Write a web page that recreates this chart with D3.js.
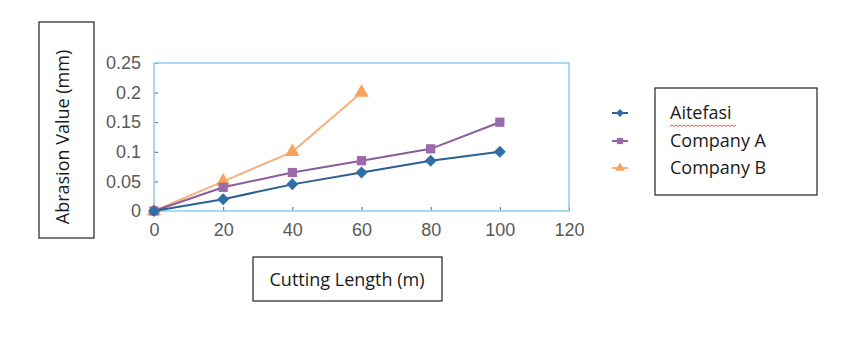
<!DOCTYPE html>
<html><head><meta charset="utf-8">
<script src="https://cdn.jsdelivr.net/npm/d3@7/dist/d3.min.js"></script>
<style>body{margin:0;background:#fff;}svg{display:block;font-family:"Open Sans",sans-serif;}</style>
</head><body>
<script>
const xValues = [0, 20, 40, 60, 80, 100];
const aitefasi = [0, 0.02, 0.045, 0.065, 0.085, 0.1];
const companyA = [0, 0.04, 0.065, 0.085, 0.105, 0.15];
const companyB = [0, 0.05, 0.1, 0.2];
const seriesNames = ["Aitefasi", "Company A", "Company B"];
const xTicks = [0, 20, 40, 60, 80, 100, 120];
const yTicks = [0, 0.05, 0.1, 0.15, 0.2, 0.25];
const yTickLabels = ["0", "0.05", "0.1", "0.15", "0.2", "0.25"];

const W = 860, H = 350;
const svg = d3.select("body").append("svg").attr("width", W).attr("height", H);
const x = d3.scaleLinear().domain([0, 120]).range([154, 569]);
const y = d3.scaleLinear().domain([0, 0.25]).range([211, 63]);

// ticks
const gx = svg.append("g").attr("transform", `translate(0,${y(0)})`)
  .call(d3.axisBottom(x).tickValues(xTicks).tickSize(-4).tickPadding(12).tickFormat(d3.format("d")));
gx.select(".domain").remove();
gx.selectAll("line").attr("stroke", "#666");
gx.selectAll("text").attr("font-size", 18).attr("fill", "#595959").attr("dy", "0.71em");

const gy = svg.append("g").attr("transform", `translate(${x(0)},0)`)
  .call(d3.axisLeft(y).tickValues(yTicks).tickSize(-4).tickPadding(13).tickFormat((d, i) => yTickLabels[i]));
gy.select(".domain").remove();
gy.selectAll("line").attr("stroke", "#666");
gy.selectAll("text").attr("font-size", 18).attr("fill", "#595959");

// frame
svg.append("rect").attr("x", x(0)).attr("y", y(0.25)).attr("width", x(120) - x(0)).attr("height", y(0) - y(0.25))
  .attr("fill", "none").attr("stroke", "#8ccff0").attr("stroke-width", 1.5);

const series = [
  {name: seriesNames[0], vals: aitefasi, line: "#2b5f8f", fill: "#2f6ea6", sym: d3.symbolSquare, rot: 45, size: 72},
  {name: seriesNames[1], vals: companyA, line: "#8a5c9c", fill: "#9a6aaa", sym: d3.symbolSquare, rot: 0, size: 85},
  {name: seriesNames[2], vals: companyB, line: "#f7b27a", fill: "#f7a35f", sym: d3.symbolTriangle, rot: 0, size: 90}
];

const line = d3.line().x(d => x(d[0])).y(d => y(d[1]));
series.slice().reverse().forEach(s => {
  const pts = s.vals.map((v, i) => [xValues[i], v]);
  svg.append("path").attr("d", line(pts)).attr("fill", "none").attr("stroke", s.line).attr("stroke-width", 2);
  svg.selectAll(null).data(pts).enter().append("path")
    .attr("d", d3.symbol().type(s.sym).size(s.size))
    .attr("transform", d => `translate(${x(d[0])},${y(d[1])}) rotate(${s.rot})`)
    .attr("fill", s.fill);
});

// legend
const legY = [113, 141, 168];
series.forEach((s, i) => {
  svg.append("line").attr("x1", 612).attr("x2", 628).attr("y1", legY[i]).attr("y2", legY[i])
    .attr("stroke", s.line).attr("stroke-width", 2);
  svg.append("path").attr("d", d3.symbol().type(s.sym).size(s.size * 0.45))
    .attr("transform", `translate(620,${legY[i]}) rotate(${s.rot})`).attr("fill", s.fill);
  svg.append("text").attr("x", 670).attr("y", legY[i] + 6).attr("font-size", 18).attr("fill", "#1a1a1a").text(s.name);
});
svg.append("rect").attr("x", 655).attr("y", 88).attr("width", 162).attr("height", 107)
  .attr("fill", "none").attr("stroke", "#222").attr("stroke-width", 1.2);
// squiggle under Aitefasi
const sq = [];
for (let px = 670; px <= 736; px += 2) sq.push([px, 125 + ((px / 2) % 2 === 0 ? 0 : 1.5)]);
svg.append("path").attr("d", d3.line()(sq)).attr("fill", "none").attr("stroke", "#e03030").attr("stroke-width", 0.8);

// y title box
svg.append("rect").attr("x", 39).attr("y", 22).attr("width", 55).attr("height", 216)
  .attr("fill", "none").attr("stroke", "#222").attr("stroke-width", 1.2);
svg.append("text").attr("transform", "translate(69,137) rotate(-90)").attr("text-anchor", "middle")
  .attr("font-size", 18).attr("fill", "#1a1a1a").text("Abrasion Value (mm)");

// x title box
svg.append("rect").attr("x", 253).attr("y", 257).attr("width", 189).attr("height", 44)
  .attr("fill", "none").attr("stroke", "#222").attr("stroke-width", 1.2);
svg.append("text").attr("x", 347).attr("y", 286).attr("text-anchor", "middle")
  .attr("font-size", 18).attr("fill", "#1a1a1a").text("Cutting Length (m)");
</script>
</body></html>
